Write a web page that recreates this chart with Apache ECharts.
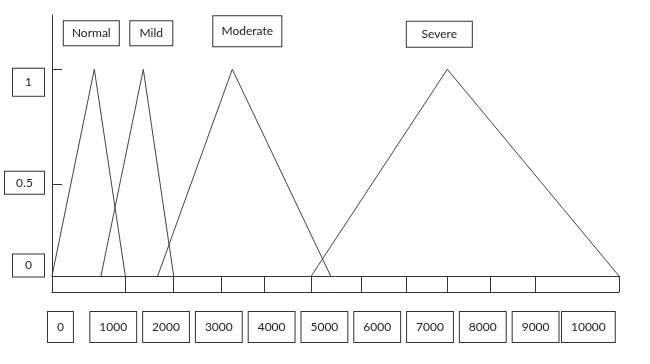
<!DOCTYPE html>
<html><head><meta charset="utf-8">
<script src="https://cdn.jsdelivr.net/npm/echarts@6/dist/echarts.min.js"></script>
<style>html,body{margin:0;padding:0;background:#fff}#c{width:650px;height:364px}</style>
</head><body><div id="c"></div><script>
// ---- data ----
const categories = ['Normal', 'Mild', 'Moderate', 'Severe'];
const normalX = [0, 746, 1293];
const mildX = [864, 1610, 2146];
const moderateX = [1864, 3180, 4915];
const severeX = [4573, 6972, 10000];
const membership = [0, 1, 0];
const xTickLabels = [0, 1000, 2000, 3000, 4000, 5000, 6000, 7000, 8000, 9000, 10000];
const yTickLabels = [0, 1];
const yMidLabel = [0.5];
const stripDividers = [0, 1293, 2146, 2993, 3739, 4580, 5455, 6249, 6979, 7737, 8531, 10000];

// ---- styles ----
const FONT = 'Lato';
const LINE = '#333';
const TRI = '#444';
const labelStyles = [
  { offset: [-3, -36], width: 55, height: 24 },
  { offset: [8, -36], width: 42, height: 24 },
  { offset: [15, -38], width: 68, height: 30 },
  { offset: [-8, -35], width: 65, height: 25 }
];
const xs = [normalX, mildX, moderateX, severeX];
const boxBase = { align: 'center', backgroundColor: '#fff', borderColor: LINE, borderWidth: 1, color: '#222', fontFamily: FONT, fontSize: 12 };

const series = categories.map((name, i) => ({
  type: 'line',
  name: name,
  xAxisIndex: 0, yAxisIndex: 0,
  symbol: 'circle', symbolSize: 1,
  itemStyle: { color: 'rgba(0,0,0,0)' },
  lineStyle: { color: TRI, width: 1 },
  silent: true,
  emphasis: { disabled: true },
  animation: false,
  data: xs[i].map((x, j) => {
    const item = { value: [x, membership[j]] };
    if (j === 1) {
      const s = labelStyles[i];
      item.label = {
        show: true, position: 'inside', offset: s.offset,
        formatter: name,
        width: s.width, height: s.height, lineHeight: s.height,
        align: 'center', verticalAlign: 'middle',
        backgroundColor: '#fff', borderColor: LINE, borderWidth: 1,
        color: '#222', fontFamily: FONT, fontSize: 12
      };
    }
    return item;
  })
}));

const chart = echarts.init(document.getElementById('c'));
chart.setOption({
  backgroundColor: '#fff',
  animation: false,
  grid: { left: 52, right: 31, top: 15, bottom: 88, containLabel: false },
  xAxis: [
    {
      type: 'value', min: 0, max: 10000, position: 'bottom',
      axisLine: { show: true, onZero: false, lineStyle: { color: LINE, width: 1 } },
      axisTick: { show: true, inside: false, length: 16, customValues: stripDividers, lineStyle: { color: LINE, width: 1 } },
      axisLabel: { show: false },
      splitLine: { show: false }
    },
    {
      type: 'value', min: 0, max: 10000, position: 'bottom', offset: 16,
      axisLine: { show: true, onZero: false, lineStyle: { color: LINE, width: 1 } },
      axisTick: { show: false }, axisLabel: { show: false }, splitLine: { show: false }
    },
    {
      type: 'value', min: -160, max: 10580, position: 'bottom', offset: 0,
      axisLine: { show: false, onZero: false }, axisTick: { show: false }, splitLine: { show: false },
      axisLabel: {
        show: true, customValues: xTickLabels, margin: 36,
        hideOverlap: false, showMinLabel: true, showMaxLabel: true,
        formatter: v => String(v),
        color: '#222', fontFamily: FONT, fontSize: 12, lineHeight: 14,
        padding: [8, 9], backgroundColor: '#fff', borderColor: LINE, borderWidth: 1
      }
    }
  ],
  yAxis: [
    {
      type: 'value', min: 0, max: 1.2627,
      axisLine: { show: true, onZero: false, lineStyle: { color: LINE, width: 1 } },
      axisTick: { show: true, inside: true, length: 10, customValues: [1], lineStyle: { color: LINE } },
      splitLine: { show: false },
      axisLabel: {
        show: true, customValues: yTickLabels, margin: 8,
        formatter: v => (v === 1 ? '{g1| }\n{b1|1}' : '{b3|0}\n{g3| }'),
        rich: {
          g1: { lineHeight: 26, height: 26, fontSize: 1 },
          g3: { lineHeight: 21, height: 21, fontSize: 1 },
          b1: Object.assign({ width: 31, height: 27, lineHeight: 27 }, boxBase),
          b3: Object.assign({ width: 31, height: 22, lineHeight: 22 }, boxBase)
        }
      }
    },
    {
      type: 'value', min: 0, max: 1.429, position: 'left', offset: 0,
      axisLine: { show: false, onZero: false },
      axisTick: { show: true, inside: true, length: 10, customValues: yMidLabel, lineStyle: { color: LINE } },
      splitLine: { show: false },
      axisLabel: {
        show: true, customValues: yMidLabel, margin: 8,
        formatter: v => '{b2|' + v + '}\n{g2| }',
        rich: {
          g2: { lineHeight: 4, height: 4, fontSize: 1 },
          b2: Object.assign({ width: 39, height: 22, lineHeight: 22 }, boxBase)
        }
      }
    }
  ],
  series: series
});
</script></body></html>
